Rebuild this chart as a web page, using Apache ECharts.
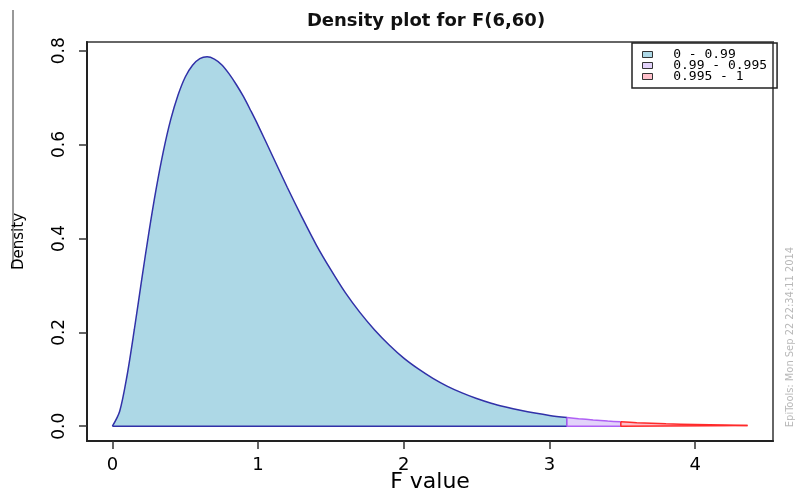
<!DOCTYPE html>
<html>
<head>
<meta charset="utf-8">
<title>Density plot for F(6,60)</title>
<script src="https://cdn.jsdelivr.net/npm/echarts@6/dist/echarts.min.js"></script>
<style>
  html, body { margin: 0; padding: 0; background: #fff; }
  #chart { width: 797px; height: 500px; }
</style>
</head>
<body>
<div id="chart"></div>
<script>
// F value and density
const fValues = [0, 0.05, 0.1, 0.15, 0.2, 0.25, 0.3, 0.35, 0.4, 0.45,
  0.5, 0.55, 0.6, 0.65, 0.7, 0.75, 0.8, 0.85, 0.9, 0.95,
  1.0, 1.1, 1.2, 1.3, 1.4, 1.5, 1.6, 1.7, 1.8, 1.9,
  2.0, 2.1, 2.2, 2.3, 2.4, 2.5, 2.6, 2.7, 2.8, 2.9,
  3.0, 3.12, 3.2, 3.3, 3.4, 3.49, 3.6, 3.8, 4.0, 4.2, 4.36]
const density = [0, 0.032, 0.107, 0.205, 0.310, 0.412, 0.505, 0.586, 0.653, 0.705,
  0.744, 0.769, 0.783, 0.787, 0.782, 0.770, 0.751, 0.728, 0.702, 0.672,
  0.641, 0.575, 0.509, 0.446, 0.386, 0.333, 0.284, 0.242, 0.205, 0.173,
  0.145, 0.122, 0.102, 0.085, 0.071, 0.059, 0.049, 0.041, 0.034, 0.028,
  0.023, 0.0186, 0.016, 0.0133, 0.011, 0.0093, 0.0076, 0.0052, 0.0036, 0.0025, 0.0018]

const cutLow = 3.12   // 0.99 quantile
const cutHigh = 3.49  // 0.995 quantile
const regionNames = ['0 - 0.99', '0.99 - 0.995', '0.995 - 1']
const regionFill = ['#add8e6', '#e2d2fa', '#ffc0cb']
const regionLine = ['#3131a8', '#b060f5', '#ff2a2a']
const xTicks = [0, 1, 2, 3, 4]
const yTicks = [0, 0.2, 0.4, 0.6, 0.8]

const font = 'DejaVu Sans'

// curve points inside one region
function curvePart(lo, hi) {
   let pts = []
   fValues.forEach((x, i) => {
      if (x >= lo && x <= hi) pts.push([x, density[i]])
   })
   return pts
}

// right edge, baseline and left edge of that region
function edgePart(pts) {
   let first = pts[0]
   let last = pts[pts.length - 1]
   return [[last[0], last[1]], [last[0], 0], [first[0], 0], [first[0], first[1]]]
}

const bounds = [[0, cutLow], [cutLow, cutHigh], [cutHigh, fValues[fValues.length - 1]]]

// R pads the axis range by 4%
const xMax = fValues[fValues.length - 1]
const yMax = Math.max(...density)

let series = []
bounds.forEach((b, i) => {
   let pts = curvePart(b[0], b[1])
   series.push({
      name: regionNames[i],
      type: 'line',
      data: pts,
      symbol: 'none',
      smooth: 0.3,
      z: 2 + i,
      lineStyle: { color: regionLine[i], width: 1.5 },
      itemStyle: { color: regionFill[i] },
      areaStyle: { color: regionFill[i], opacity: 1 }
   })
   series.push({
      name: 'edge' + i,
      type: 'line',
      data: edgePart(pts),
      symbol: 'none',
      z: 2 + i,
      lineStyle: { color: regionLine[i], width: 1.5 }
   })
})

let chart = echarts.init(document.getElementById('chart'))
let option = {
   animation: false,
   grid: {
      left: 87, right: 24, top: 42, bottom: 59,
      outerBoundsMode: 'none',
      containLabel: false,
      show: true,
      borderColor: '#666',
      borderWidth: 2
   },
   legend: {
      orient: 'vertical',
      left: 632,
      top: 43,
      icon: 'rect',
      itemWidth: 10,
      itemHeight: 6,
      itemGap: -2,
      padding: [5, 10, 5, 10],
      borderColor: '#222',
      borderWidth: 1.5,
      selectedMode: false,
      formatter: name => '  ' + name,
      textStyle: {
         fontFamily: 'DejaVu Sans Mono',
         fontSize: 13,
         lineHeight: 11,
         color: '#000'
      },
      data: regionNames.map((n, i) => ({
         name: n,
         itemStyle: { color: regionFill[i], borderColor: '#333', borderWidth: 1 }
      }))
   },
   xAxis: {
      type: 'value',
      min: -0.04 * xMax,
      max: 1.04 * xMax,
      name: 'F value',
      nameLocation: 'middle',
      nameGap: 30,
      nameMoveOverlap: false,
      nameTextStyle: { fontFamily: font, fontSize: 22, color: '#000' },
      axisLine: { show: true, onZero: false, lineStyle: { color: '#222', width: 2 } },
      axisTick: { show: true, customValues: xTicks, length: 8, lineStyle: { color: '#333', width: 1.5 } },
      axisLabel: { customValues: xTicks, margin: 15, fontFamily: font, fontSize: 18, color: '#000' },
      splitLine: { show: false }
   },
   yAxis: {
      type: 'value',
      min: -0.04 * yMax,
      max: 1.04 * yMax,
      name: 'Density',
      nameLocation: 'middle',
      nameGap: 60,
      nameMoveOverlap: false,
      nameTextStyle: { fontFamily: font, fontSize: 15, color: '#000' },
      axisLine: { show: true, onZero: false, lineStyle: { color: '#222', width: 2 } },
      axisTick: { show: true, customValues: yTicks, length: 8, lineStyle: { color: '#333', width: 1.5 } },
      axisLabel: {
         customValues: yTicks,
         rotate: 90,
         margin: 19,
         fontFamily: font,
         fontSize: 17,
         color: '#000',
         formatter: v => v.toFixed(1)
      },
      splitLine: { show: false }
   },
   graphic: [
      {
         type: 'text',
         x: 426, y: 21,
         style: {
            text: 'Density plot for F(6,60)',
            fontFamily: font, fontSize: 18, fontWeight: 'bold',
            fill: '#111', align: 'center', verticalAlign: 'middle'
         }
      },
      {
         type: 'line',
         shape: { x1: 13, y1: 10, x2: 13, y2: 268 },
         style: { stroke: '#333', lineWidth: 1 }
      },
      {
         type: 'text',
         x: 790, y: 337,
         rotation: Math.PI / 2,
         style: {
            text: 'EpiTools: Mon Sep 22 22:34:11 2014',
            fontFamily: 'DejaVu Sans Condensed', fontSize: 11,
            fill: '#b8b8b8', align: 'center', verticalAlign: 'middle'
         }
      }
   ],
   series: series
}
chart.setOption(option)
</script>
</body>
</html>
